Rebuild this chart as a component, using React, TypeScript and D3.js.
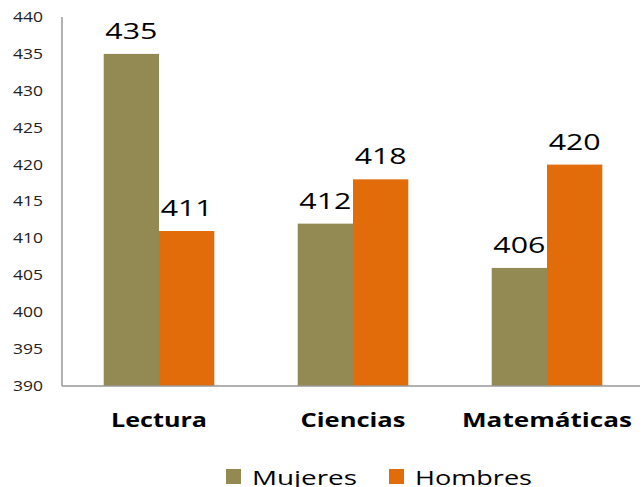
import React from "react";
import * as d3 from "d3";

const categories = ["Lectura", "Ciencias", "Matemáticas"];
const seriesNames = ["Mujeres", "Hombres"];
const mujeres = [435, 412, 406];
const hombres = [411, 418, 420];
const yTicks = [390, 395, 400, 405, 410, 415, 420, 425, 430, 435, 440];
const colors = ["#938953", "#E36C0A"];

// rendered text widths (stretched look of the original)
const catWidths: Record<string, number> = { "Lectura": 96, "Ciencias": 105, "Matemáticas": 170 };
const legendWidths: Record<string, number> = { "Mujeres": 105, "Hombres": 117 };

export default function App() {
  const W = 642, H = 487;
  const left = 62, right = 644, top = 17, bottom = 386;
  const x = d3.scaleBand<string>().domain(categories).range([left, right]).paddingInner(0.43).paddingOuter(0.215);
  const x1 = d3.scaleBand<string>().domain(seriesNames).range([0, x.bandwidth()]);
  const y = d3.scaleLinear().domain([390, 440]).range([bottom, top]);
  const series = [mujeres, hombres];
  const font = "'Open Sans', sans-serif";
  return (
    <svg width={W} height={H} style={{ position: "absolute", left: 0, top: 0 }} fontFamily={font}>
      <rect width={W} height={H} fill="#fff" />
      {yTicks.map((t) => (
        <text key={t} x={13} y={y(t)} dy="0.35em" textAnchor="start" fontSize={14} fill="#222"
          textLength={30} lengthAdjust="spacingAndGlyphs">{t}</text>
      ))}
      {categories.map((c, i) =>
        series.map((s, j) => {
          const bx = (x(c) ?? 0) + (x1(seriesNames[j]) ?? 0);
          return (
            <g key={c + j}>
              <rect x={bx} y={y(s[i])} width={x1.bandwidth()} height={bottom - y(s[i])} fill={colors[j]} />
              <text x={bx + x1.bandwidth() / 2 - 26} y={y(s[i]) - 15} textAnchor="start" fontSize={22} fill="#000"
                textLength={52} lengthAdjust="spacingAndGlyphs">{s[i]}</text>
            </g>
          );
        })
      )}
      <line x1={left} x2={left} y1={top} y2={bottom} stroke="#999" strokeWidth={1.5} />
      <line x1={left} x2={640} y1={bottom} y2={bottom} stroke="#999" strokeWidth={1.5} />
      {categories.map((c) => (
        <text key={c} x={(x(c) ?? 0) + x.bandwidth() / 2 - catWidths[c] / 2} y={427} textAnchor="start" fontSize={19} fontWeight="bold" fill="#000"
          textLength={catWidths[c]} lengthAdjust="spacingAndGlyphs">{c}</text>
      ))}
      {seriesNames.map((n, j) => (
        <g key={n} transform={`translate(${j === 0 ? 226 : 389},469)`}>
          <rect width={15} height={15} fill={colors[j]} />
          <text x={26} y={16} fontSize={20} fill="#000" textLength={legendWidths[n]} lengthAdjust="spacingAndGlyphs">{n}</text>
        </g>
      ))}
    </svg>
  );
}
